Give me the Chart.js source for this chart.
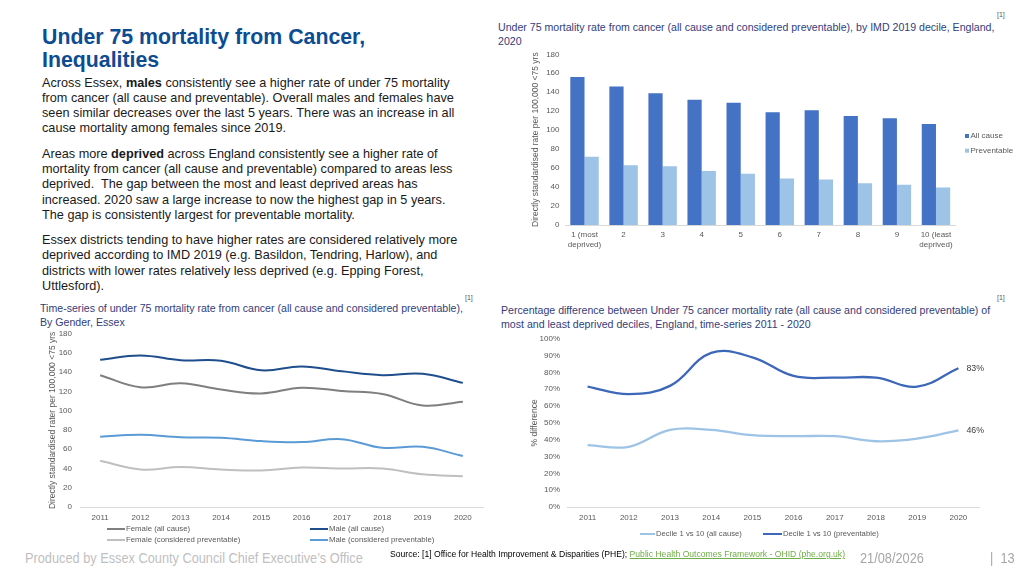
<!DOCTYPE html>
<html>
<head>
<meta charset="utf-8">
<script src="https://cdn.jsdelivr.net/npm/chart.js@4.4.1/dist/chart.umd.min.js"></script>
<style>
  html, body { margin:0; padding:0; background:#fff; }
  body { width:1024px; height:575px; position:relative; overflow:hidden; font-family:"Liberation Sans", Arial, sans-serif; }
  .abs { position:absolute; }
  #title { left:42px; top:26px; font-size:21.3px; font-weight:bold; color:#0E4C92; line-height:22.5px; white-space:nowrap; }
  #body { left:42px; top:75.5px; font-size:12.7px; color:#1a1a1a; line-height:15.3px; }
  #body p { margin:0 0 10px 0; white-space:nowrap; }
  .ctitle { font-size:10.6px; color:#333D7A; line-height:13.5px; white-space:nowrap; }
  .ref { font-size:7px; color:#595959; }
  .narrow { font-family:"Liberation Sans Narrow","Liberation Sans",sans-serif; font-size:14.5px; color:#BFBFBF; transform:scaleX(0.88); transform-origin:0 0; white-space:nowrap; }
  #foot1 { left:25px; top:550px; }
  #src { left:390px; top:549px; font-size:8.6px; color:#000; white-space:nowrap; }
  #src a { color:#70AD47; text-decoration:underline; }
  #date { left:860px; top:550px; color:#A6A6A6; }
  #page { left:990px; top:550px; color:#A6A6A6; }
</style>
</head>
<body>
<div id="title" class="abs">Under 75 mortality from Cancer,<br>Inequalities</div>
<div id="body" class="abs">
<p>Across Essex, <b>males</b> consistently see a higher rate of under 75 mortality<br>from cancer (all cause and preventable). Overall males and females have<br>seen similar decreases over the last 5 years. There was an increase in all<br>cause mortality among females since 2019.</p>
<p>Areas more <b>deprived</b> across England consistently see a higher rate of<br>mortality from cancer (all cause and preventable) compared to areas less<br>deprived.&nbsp; The gap between the most and least deprived areas has<br>increased. 2020 saw a large increase to now the highest gap in 5 years.<br>The gap is consistently largest for preventable mortality.</p>
<p>Essex districts tending to have higher rates are considered relatively more<br>deprived according to IMD 2019 (e.g. Basildon, Tendring, Harlow), and<br>districts with lower rates relatively less deprived (e.g. Epping Forest,<br>Uttlesford).</p>
</div>

<div class="abs ref" style="left:997px;top:11px;">[1]</div>
<div class="abs ctitle" style="left:498px;top:21px;">Under 75 mortality rate from cancer (all cause and considered preventable), by IMD 2019 decile, England,<br>2020</div>

<div class="abs ref" style="left:465px;top:294px;">[1]</div>
<div class="abs ctitle" style="left:40px;top:301px;line-height:14px;">Time-series of under 75 mortality rate from cancer (all cause and considered preventable),<br>By Gender, Essex</div>

<div class="abs ref" style="left:997px;top:294px;">[1]</div>
<div class="abs ctitle" style="left:501px;top:304px;">Percentage difference between Under 75 cancer mortality rate (all cause and considered preventable) of<br>most and least deprived deciles, England, time-series 2011 - 2020</div>

<div class="abs" style="left:520px;top:44px;width:504px;height:211px;"><canvas id="c1"></canvas></div>
<div class="abs" style="left:40px;top:321px;width:450px;height:229px;"><canvas id="c2"></canvas></div>
<div class="abs" style="left:520px;top:327px;width:504px;height:218px;"><canvas id="c3"></canvas></div>

<div id="foot1" class="abs narrow">Produced by Essex County Council Chief Executive’s Office</div>
<div id="src" class="abs">Source: [1] Office for Health Improvement &amp; Disparities (PHE); <a>Public Health Outcomes Framework - OHID (phe.org.uk)</a></div>
<div id="date" class="abs narrow">21/08/2026</div>
<div id="page" class="abs narrow">|&nbsp; 13</div>

<script>
// ---------- Data ----------
const deciles = [["1 (most","deprived)"],"2","3","4","5","6","7","8","9",["10 (least","deprived)"]];
const imdAllCause = [156, 146, 139, 132, 129, 119, 121, 115, 112.5, 106.5];
const imdPreventable = [72, 63, 62, 57, 54, 49, 48, 44, 42.5, 39.5];

const years = ["2011","2012","2013","2014","2015","2016","2017","2018","2019","2020"];
const femaleAllCause = [137, 124.5, 128.5, 122, 118, 124, 120.5, 117.5, 105.5, 109.5];
const maleAllCause = [153, 157.5, 152.5, 152, 142, 146, 141, 137, 138.5, 129];
const femalePreventable = [48, 39, 41.5, 39, 38, 41, 40, 40, 34, 32];
const malePreventable = [73, 75, 72.5, 72, 68.5, 67.5, 70.5, 61.5, 62.5, 53];

const gapAllCause = [36.8, 35.8, 45.8, 45.8, 42.7, 42.1, 42.1, 39.1, 40.7, 45.6];
const gapPreventable = [71.6, 67.1, 72, 91.6, 89, 77.9, 76.9, 76.9, 71.6, 82.5];

const yTicks180 = [0,20,40,60,80,100,120,140,160,180];
const yTicksPct = [0,10,20,30,40,50,60,70,80,90,100];

// ---------- Common ----------
Chart.defaults.font.family = '"Liberation Sans", Arial, sans-serif';
Chart.defaults.color = '#595959';
Chart.defaults.animation = false;
const tickFont = { size: 8 };
const axisLine = '#D9D9D9';

// Legend drawn at fixed positions from the datasets' own labels/colours
const placedLegend = {
  id: 'placedLegend',
  afterDraw(chart, args, opts) {
    const ctx = chart.ctx;
    ctx.save();
    ctx.font = (opts.fontSize || 8) + 'px "Liberation Sans", Arial, sans-serif';
    ctx.textBaseline = 'middle';
    (opts.items || []).forEach(it => {
      const ds = chart.data.datasets[it.i];
      let tx;
      if (opts.box) {
        ctx.fillStyle = ds.backgroundColor;
        ctx.fillRect(it.x, it.y - 2, 4, 4);
        tx = it.x + 5.5;
      } else {
        const len = it.len || opts.len || 18;
        ctx.strokeStyle = ds.borderColor;
        ctx.lineWidth = 2;
        ctx.beginPath(); ctx.moveTo(it.x, it.y); ctx.lineTo(it.x + len, it.y); ctx.stroke();
        tx = it.x + len + 1;
      }
      ctx.fillStyle = '#595959';
      ctx.fillText(ds.label, tx, it.y);
    });
    ctx.restore();
  }
};

// ---------- Chart 1: bar ----------
new Chart(document.getElementById('c1'), {
  type: 'bar',
  plugins: [placedLegend],
  data: {
    labels: deciles,
    datasets: [
      { label: 'All cause', data: imdAllCause, backgroundColor: '#4472C4' },
      { label: 'Preventable', data: imdPreventable, backgroundColor: '#9DC3E6' }
    ]
  },
  options: {
    responsive: true, maintainAspectRatio: false,
    layout: { padding: { top: 0, right: 68.5, left: 11, bottom: 0 } },
    datasets: { bar: { categoryPercentage: 0.728, barPercentage: 1.0 } },
    plugins: {
      legend: { display: false },
      tooltip: { enabled: false },
      placedLegend: { box: true, fontSize: 8, items: [ { i: 0, x: 445, y: 92 }, { i: 1, x: 445, y: 106.7 } ] }
    },
    scales: {
      x: {
        afterFit: s => { s.height = 30; },
        grid: { display: false, drawTicks: false },
        border: { color: axisLine },
        ticks: { font: tickFont, padding: 5, maxRotation: 0, autoSkip: false }
      },
      y: {
        min: 0, max: 180,
        afterBuildTicks: s => { s.ticks = yTicks180.map(v => ({ value: v })); },
        afterFit: s => { s.width = 34; },
        grid: { display: false, drawTicks: false },
        border: { display: false },
        ticks: { font: tickFont, padding: 5.5 },
        title: { display: true, text: 'Directly standardised rate per 100,000 <75 yrs', font: { size: 8.5 }, color: '#595959', padding: 0 }
      }
    }
  }
});

// ---------- Chart 2: lines by gender ----------
new Chart(document.getElementById('c2'), {
  type: 'line',
  plugins: [placedLegend],
  data: {
    labels: years,
    datasets: [
      { label: 'Female (all cause)', data: femaleAllCause, borderColor: '#7F7F7F' },
      { label: 'Male (all cause)', data: maleAllCause, borderColor: '#1F4E8C' },
      { label: 'Female (considered preventable)', data: femalePreventable, borderColor: '#BFBFBF' },
      { label: 'Male (considered preventable)', data: malePreventable, borderColor: '#5B9BD5' }
    ]
  },
  options: {
    responsive: true, maintainAspectRatio: false,
    layout: { padding: { top: 2, right: 7, left: 8, bottom: 30 } },
    elements: { line: { tension: 0.4, borderWidth: 2, fill: false }, point: { radius: 0 } },
    plugins: {
      legend: { display: false }, tooltip: { enabled: false },
      placedLegend: { fontSize: 7.8, len: 18, items: [
        { i: 0, x: 67, y: 208 }, { i: 1, x: 270, y: 208 },
        { i: 2, x: 67, y: 219 }, { i: 3, x: 270, y: 219 }
      ] }
    },
    scales: {
      x: {
        offset: true,
        afterFit: s => { s.height = 13; },
        grid: { display: false, drawTicks: false },
        border: { color: axisLine },
        ticks: { font: tickFont, padding: 6 }
      },
      y: {
        min: 0, max: 180,
        afterBuildTicks: s => { s.ticks = yTicks180.map(v => ({ value: v })); },
        afterFit: s => { s.width = 32; },
        grid: { display: false, drawTicks: false },
        border: { display: false },
        ticks: { font: tickFont, padding: 8 },
        title: { display: true, text: 'Directly standardised rater per 100,000 <75 yrs', font: { size: 8.5 }, color: '#595959', padding: 0 }
      }
    }
  }
});

// ---------- Chart 3: percentage gap ----------
const endLabels = {
  id: 'endLabels',
  afterDatasetsDraw(chart) {
    const ctx = chart.ctx;
    ctx.save();
    ctx.font = '8.8px "Liberation Sans", Arial, sans-serif';
    ctx.fillStyle = '#404040';
    ctx.textBaseline = 'middle';
    chart.data.datasets.forEach((ds, i) => {
      const meta = chart.getDatasetMeta(i);
      const pt = meta.data[meta.data.length - 1];
      const v = ds.data[ds.data.length - 1];
      ctx.fillText(Math.round(v) + '%', pt.x + 8, pt.y);
    });
    ctx.restore();
  }
};
new Chart(document.getElementById('c3'), {
  type: 'line',
  plugins: [endLabels, placedLegend],
  data: {
    labels: years,
    datasets: [
      { label: 'Decile 1 vs 10 (all cause)', data: gapAllCause, borderColor: '#9DC3E6', backgroundColor: '#9DC3E6' },
      { label: 'Decile 1 vs 10 (preventable)', data: gapPreventable, borderColor: '#3D67B8', backgroundColor: '#3D67B8' }
    ]
  },
  options: {
    responsive: true, maintainAspectRatio: false,
    layout: { padding: { top: 2, right: 45, left: 10, bottom: 24 } },
    elements: { line: { tension: 0.4, borderWidth: 2.3, fill: false }, point: { radius: 0 } },
    plugins: {
      tooltip: { enabled: false },
      legend: { display: false },
      placedLegend: { fontSize: 7.7, items: [
        { i: 0, x: 120, y: 207, len: 15 }, { i: 1, x: 243, y: 207, len: 19 }
      ] }
    },
    scales: {
      x: {
        offset: true,
        afterFit: s => { s.height = 14; },
        grid: { display: false, drawTicks: false },
        border: { color: axisLine },
        ticks: { font: tickFont, padding: 6 }
      },
      y: {
        min: 0, max: 100,
        afterBuildTicks: s => { s.ticks = yTicksPct.map(v => ({ value: v })); },
        afterFit: s => { s.width = 37; },
        grid: { display: false, drawTicks: false },
        border: { display: false },
        ticks: { font: tickFont, padding: 7, callback: v => v + '%' },
        title: { display: true, text: '% difference', font: { size: 8.5 }, color: '#595959', padding: 0 }
      }
    }
  }
});
</script>
</body>
</html>
